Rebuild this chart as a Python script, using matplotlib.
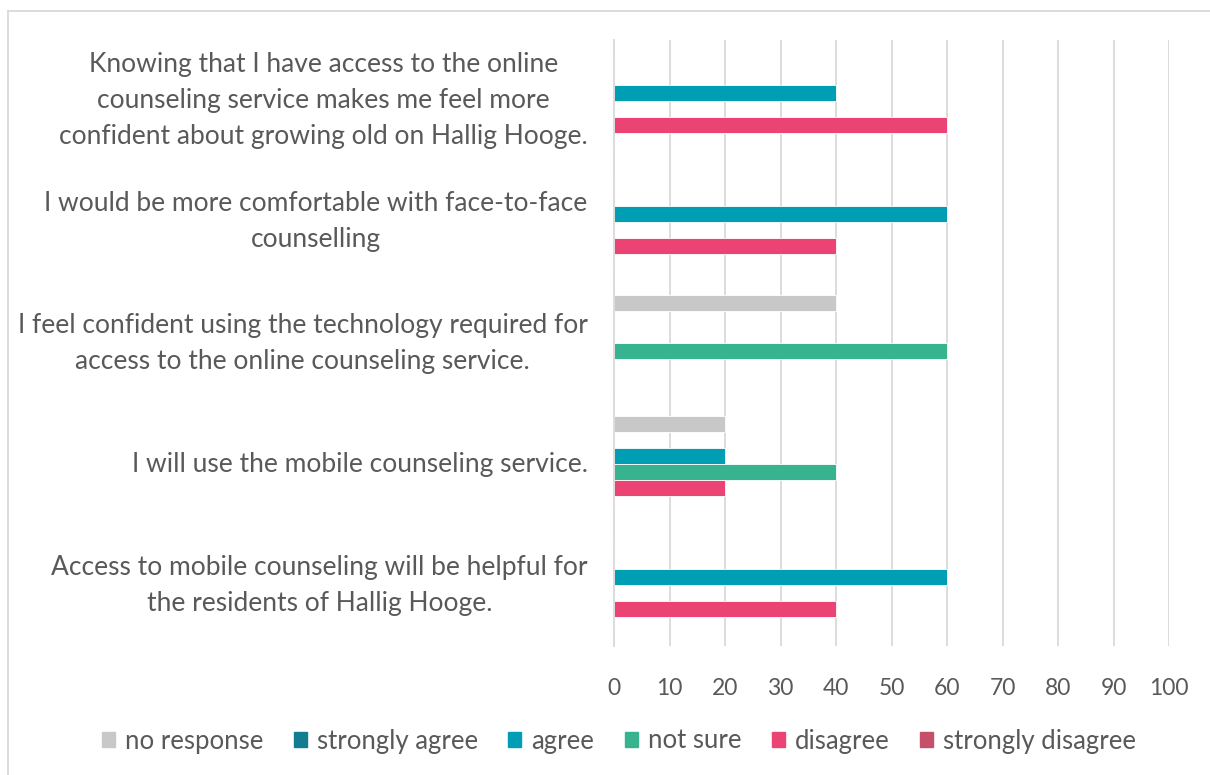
import matplotlib
matplotlib.use("Agg")
import matplotlib.pyplot as plt
from matplotlib.lines import Line2D
import numpy as np

plt.rcParams['font.family'] = ['Lato', 'DejaVu Sans']

categories = [
    "Knowing that I have access to the online\ncounseling service makes me feel more\nconfident about growing old on Hallig Hooge.",
    "I would be more comfortable with face-to-face\ncounselling",
    "I feel confident using the technology required for\naccess to the online counseling service.",
    "I will use the mobile counseling service.",
    "Access to mobile counseling will be helpful for\nthe residents of Hallig Hooge.",
]
series_names = ["no response", "strongly agree", "agree", "not sure", "disagree", "strongly disagree"]
no_response       = [0, 0, 40, 20, 0]
strongly_agree    = [0, 0, 0, 0, 0]
agree             = [40, 60, 0, 20, 60]
not_sure          = [0, 0, 60, 40, 0]
disagree          = [60, 40, 0, 20, 40]
strongly_disagree = [0, 0, 0, 0, 0]
series_values = [no_response, strongly_agree, agree, not_sure, disagree, strongly_disagree]
colors = ["#C8C8C8", "#127D91", "#009EB5", "#37B38F", "#EA4374", "#C4506A"]
x_ticks = list(range(0, 101, 10))

text_color = "#595959"
grid_color = "#D9D9D9"

fig = plt.figure(figsize=(12.1, 7.75), dpi=100)
ax = fig.add_axes([614/1210, 1 - 646/775, 555/1210, 606/775])

n_series = len(series_values)
bar_h = 16 / 121
y_base = np.arange(len(categories))
for j, (vals, col) in enumerate(zip(series_values, colors)):
    offs = (j - (n_series - 1) / 2) * bar_h
    ax.barh(y_base + offs, vals, height=bar_h, color=col,
            edgecolor="white", linewidth=0.6, zorder=3)

ax.set_ylim(len(categories) - 0.5, -0.5)
ax.set_xlim(0, 100)
ax.set_xticks(x_ticks)
ax.set_xticklabels([str(t) for t in x_ticks])
ax.set_yticks(y_base)
ax.set_yticklabels(categories, multialignment="center", linespacing=1.55, va="center")

ax.tick_params(axis="x", length=0, pad=23, labelsize=16.5, labelcolor=text_color)
ax.tick_params(axis="y", length=0, pad=19, labelsize=19, labelcolor=text_color)

ax.grid(axis="x", color=grid_color, linewidth=1.3, zorder=0)
for side in ["top", "right", "bottom"]:
    ax.spines[side].set_visible(False)
ax.spines["left"].set_color(grid_color)
ax.spines["left"].set_linewidth(1.3)
ax.spines["left"].set_zorder(4)

# Chart frame
fig.add_artist(Line2D([8/1210, 8/1210], [0, 1 - 11/775], color=grid_color, lw=1.3,
                      transform=fig.transFigure))
fig.add_artist(Line2D([8/1210, 1], [1 - 11/775, 1 - 11/775], color=grid_color, lw=1.3,
                      transform=fig.transFigure))

handles = [plt.Rectangle((0, 0), 1, 1, color=c) for c in colors]
fig.legend(handles, series_names, loc="center", bbox_to_anchor=(619/1210, 1 - 741/775),
           ncol=6, frameon=False, fontsize=18.5, labelcolor=text_color,
           handlelength=0.5, handleheight=0.5, handletextpad=0.4, columnspacing=1.18)

fig.savefig("out.png", dpi=100)
